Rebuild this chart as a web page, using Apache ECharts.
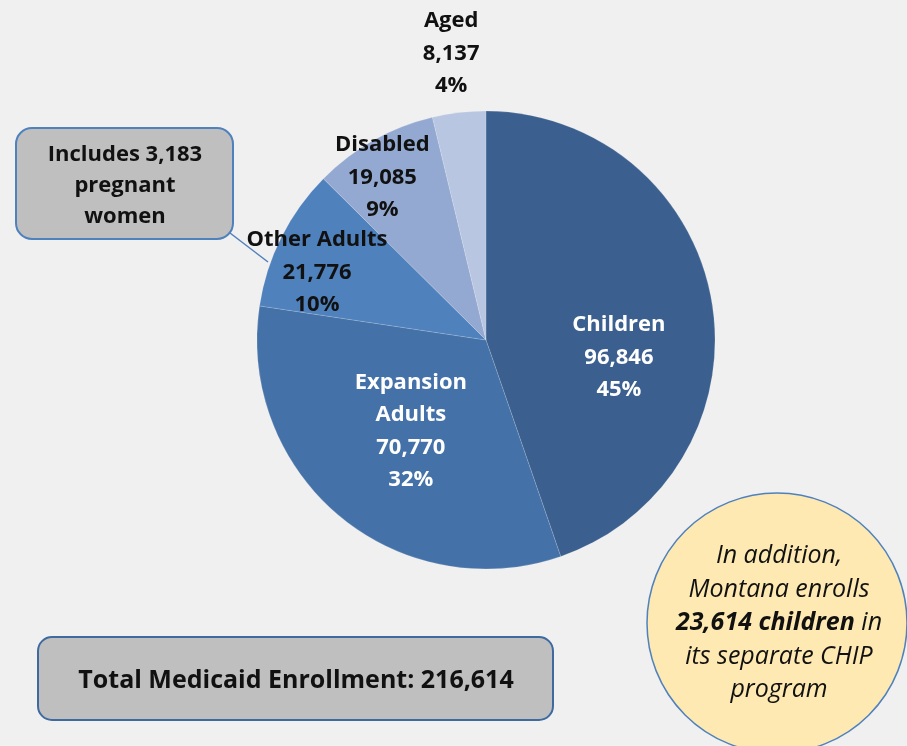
<!DOCTYPE html>
<html>
<head>
<meta charset="utf-8">
<script src="https://cdn.jsdelivr.net/npm/echarts@6/dist/echarts.min.js"></script>
<style>
  html, body { margin: 0; padding: 0; background: #f0f0f0; }
  #main { width: 907px; height: 746px; }
</style>
</head>
<body>
<div id="main"></div>
<script>
// enrollment by group, clockwise from 12 o'clock
var groups = ['Children', 'Expansion Adults', 'Other Adults', 'Disabled', 'Aged']
var labelNames = ['Children', 'Expansion\nAdults', 'Other Adults', 'Disabled', 'Aged']
var enrollment = [96846, 70770, 21776, 19085, 8137]
var percents = ['45%', '32%', '10%', '9%', '4%']
var total = 216614
var chipChildren = 23614
var pregnantWomen = 3183

var colors = ['#3b5f8e', '#4471a7', '#4f81bd', '#94a9d1', '#b9c6e1']
var labelColors = ['#fff', '#fff', '#111', '#111', '#111']
var labelOffsets = [[17, 37], [0, 1], [-64, -15], [-46, -60], [-21, -170]]

var fmt = n => n.toLocaleString('en-US')
var FONT = '"Open Sans", Lato, sans-serif'

var chartDom = document.getElementById('main')
var myChart = echarts.init(chartDom)

var data = groups.map((g, i) => ({
  name: g,
  value: enrollment[i],
  itemStyle: {color: colors[i]},
  label: {
    color: labelColors[i],
    offset: labelOffsets[i],
    formatter: labelNames[i] + '\n' + fmt(enrollment[i]) + '\n' + percents[i]
  }
}))

var option = {
  backgroundColor: '#f0f0f0',
  animation: false,
  series: [{
    type: 'pie',
    center: [486, 340],
    radius: [0, 229],
    startAngle: 90,
    clockwise: true,
    avoidLabelOverlap: false,
    labelLayout: {hideOverlap: false},
    itemStyle: {borderColor: 'rgba(255,255,255,0.25)', borderWidth: 0.6},
    label: {
      show: true,
      position: 'inside',
      fontFamily: FONT,
      fontWeight: 'bold',
      fontSize: 22,
      lineHeight: 32.5,
      align: 'center'
    },
    labelLine: {show: false},
    emphasis: {disabled: true},
    data: data
  }],
  graphic: [
    // callout for other adults
    {type: 'line', shape: {x1: 230, y1: 233, x2: 268, y2: 262},
      style: {stroke: '#4f81bd', lineWidth: 1.5}, z: 10},
    {type: 'rect', shape: {x: 16, y: 128, width: 217, height: 111, r: 16},
      style: {fill: '#bfbfbf', stroke: '#4f81bd', lineWidth: 2}, z: 10},
    {type: 'text', x: 125, y: 186, z: 11,
      style: {text: 'Includes ' + fmt(pregnantWomen) + '\npregnant\nwomen', fill: '#111',
        font: 'bold 22px ' + FONT, lineHeight: 31, align: 'center', verticalAlign: 'middle'}},
    // total box
    {type: 'rect', shape: {x: 38, y: 637, width: 515, height: 83, r: 14},
      style: {fill: '#bfbfbf', stroke: '#3f6aa0', lineWidth: 2}, z: 10},
    {type: 'text', x: 296, y: 681, z: 11,
      style: {text: 'Total Medicaid Enrollment: ' + fmt(total), fill: '#111',
        font: 'bold 25px ' + FONT, align: 'center', verticalAlign: 'middle'}},
    // CHIP note
    {type: 'circle', shape: {cx: 777, cy: 623, r: 130},
      style: {fill: '#fde9b1', stroke: '#4f81bd', lineWidth: 1.5}, z: 10},
    {type: 'text', x: 779, y: 623, z: 11,
      style: {
        text: '{i|In addition,}\n{i|Montana enrolls}\n{b|' + fmt(chipChildren) + ' children}{i| in}\n{i|its separate CHIP}\n{i|program}',
        align: 'center', verticalAlign: 'middle', fill: '#111',
        rich: {
          i: {font: 'italic 25px ' + FONT, lineHeight: 33.5, fill: '#111'},
          b: {font: 'italic bold 25px ' + FONT, lineHeight: 33.5, fill: '#111'}
        }
      }}
  ]
}

option && myChart.setOption(option)
</script>
</body>
</html>
